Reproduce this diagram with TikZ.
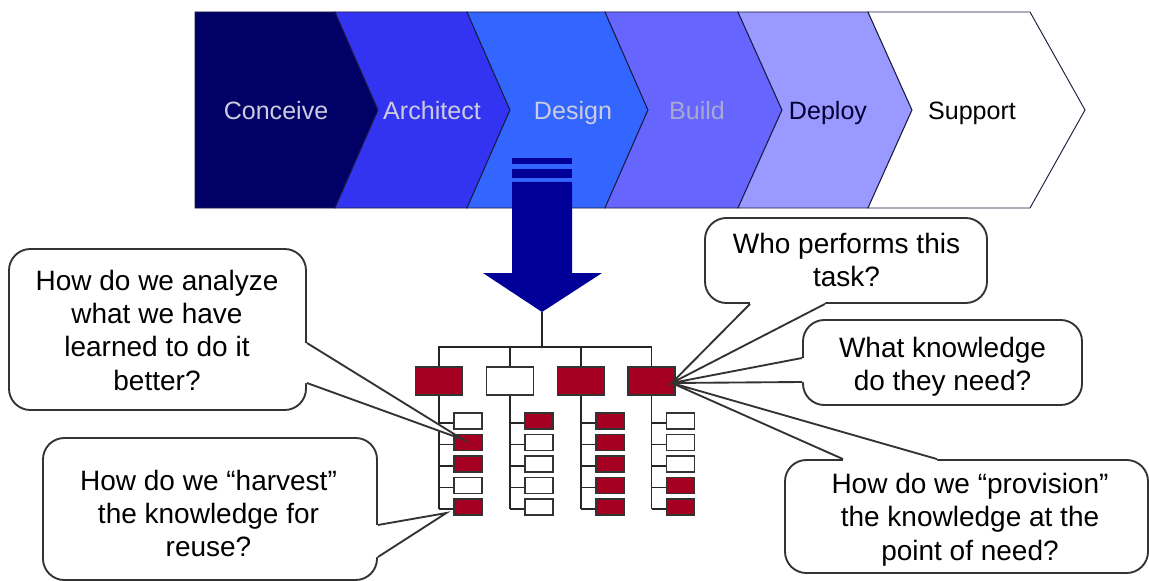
\documentclass[tikz,border=0pt]{standalone}
\usepackage{fontspec}
\setmainfont{Liberation Sans}
\usetikzlibrary{calc}

\definecolor{phaseA}{HTML}{000066}
\definecolor{phaseB}{HTML}{3333F2}
\definecolor{phaseC}{HTML}{3366FF}
\definecolor{phaseD}{HTML}{6666FF}
\definecolor{phaseE}{HTML}{9999FF}
\definecolor{edge}{HTML}{1A1A40}
\definecolor{labelpale}{HTML}{CCCCE0}
\definecolor{labelgrey}{HTML}{A8A8D0}
\definecolor{labeldark}{HTML}{000033}
\definecolor{arrowblue}{HTML}{000099}
\definecolor{taskred}{HTML}{A50021}
\definecolor{inkgray}{HTML}{333333}

% pointer wedge of a speech bubble: base points #1,#2, tip #3, inward offset #4
\newcommand{\calloutptr}[4]{%
  \fill[white] (#1) -- (#3) -- (#2) -- ($(#2)+#4$) -- ($(#1)+#4$) -- cycle;
  \draw[bubbleline] (#1) -- (#3) -- (#2);}

\begin{document}
\begin{tikzpicture}[x=0.75pt,y=-0.75pt,
  chev/.style={draw=edge, line width=0.7pt, line join=miter},
  phase/.style={anchor=base, font=\fontsize{18.8}{22}\selectfont, inner sep=0pt},
  pbox/.style={draw=inkgray, line width=1pt, minimum width=35.25pt, minimum height=21pt, inner sep=0pt},
  cbox/.style={draw=inkgray, line width=1pt, minimum width=21pt, minimum height=12pt, inner sep=0pt},
  cf0/.style={fill=white},
  cf1/.style={fill=taskred},
  tline/.style={draw=black!85, line width=1.2pt},
  bubble/.style={draw=inkgray, fill=white, line width=1.4pt, rounded corners=16pt, inner sep=0pt},
  bubbleline/.style={draw=inkgray, line width=1.4pt, line join=miter},
  qtext/.style={align=center, font=\fontsize{21}{25}\selectfont, inner sep=0pt}]

\fill[white] (0,0) rectangle (1149,581);
\useasboundingbox (0,0) rectangle (1149,581);

% life-cycle phases
\filldraw[chev, fill=phaseA] (195,12) -- (335,12) -- (378,110) -- (335,208) -- (195,208) -- cycle;
\filldraw[chev, fill=phaseB] (335,12) -- (467,12) -- (510,110) -- (467,208) -- (335,208) -- (378,110) -- cycle;
\filldraw[chev, fill=phaseC] (467,12) -- (605,12) -- (648,110) -- (605,208) -- (467,208) -- (510,110) -- cycle;
\filldraw[chev, fill=phaseD] (605,12) -- (738,12) -- (782,110) -- (738,208) -- (605,208) -- (648,110) -- cycle;
\filldraw[chev, fill=phaseE] (738,12) -- (868,12) -- (912,110) -- (868,208) -- (738,208) -- (782,110) -- cycle;
\filldraw[chev, fill=white] (868,12) -- (1030,12) -- (1085,110) -- (1030,208) -- (868,208) -- (912,110) -- cycle;

\node[phase, text=labelpale] (pConceive) at (276,120) {Conceive};
\node[phase, text=labelpale] (pArchitect) at (432,120) {Architect};
\node[phase, text=labelpale] (pDesign) at (573,120) {Design};
\node[phase, text=labelgrey] (pBuild) at (697,120) {Build};
\node[phase, text=labeldark] (pDeploy) at (828,120) {Deploy};
\node[phase, text=black] (pSupport) at (972,120) {Support};

% drill-down arrow
\fill[arrowblue] (512,158) rectangle (572,164);
\fill[arrowblue] (512,169) rectangle (572,178);
\fill[arrowblue] (512,182) -- (572,182) -- (572,273) -- (602,273) -- (542,312)
  -- (483,273) -- (512,273) -- cycle;
\coordinate (atip) at (542,312);
\coordinate (hub) at (542,347);

% task tree
\node[pbox, cf1] (t1) at (439,381) {};
\node[pbox, cf0] (t2) at (510,381) {};
\node[pbox, cf1] (t3) at (581,381) {};
\node[pbox, cf1] (t4) at (651.5,381) {};

\draw[tline] (atip) -- (hub);
\draw[tline] (t1.north) -- (t1.north |- hub) -- (t4.north |- hub) -- (t4.north);
\draw[tline] (t2.north) -- (t2.north |- hub);
\draw[tline] (t3.north) -- (t3.north |- hub);

\foreach \col/\fl in {1/{0,1,1,0,1}, 2/{1,0,0,0,0}, 3/{1,1,1,1,1}, 4/{0,0,0,1,1}} {
  \foreach \f [count=\r] in \fl {
    \node[cbox, cf\f] (c\col\r) at ($(t\col.center)+(29,40+21.5*\r-21.5)$) {};
    \draw[tline] ($(t\col.south |- c\col\r.west)+(0,2)$) -- ($(c\col\r.west)+(0,2)$);
  }
  \draw[tline] (t\col.south) -- ($(t\col.south |- c\col5.west)+(0,2)$);
}

% question bubbles
\node[bubble, minimum width=222.75pt, minimum height=120.75pt] (q1) at (157.5,329.5) {};
\coordinate (q1a) at ($(q1.east)+(0,13.5)$);
\coordinate (q1b) at ($(q1.east)+(0,53.5)$);
\coordinate (q1tip) at ($(c12.center)+(-5,-3)$);
\calloutptr{q1a}{q1b}{q1tip}{(-3,0)}
\node[qtext] (q1t) at (157,330) {How do we analyze\\what we have\\learned to do it\\better?};

\node[bubble, minimum width=250.5pt, minimum height=106.5pt] (q2) at (210,509) {};
\coordinate (q2a) at ($(q2.east)+(0,16)$);
\coordinate (q2b) at ($(q2.east)+(0,48)$);
\coordinate (q2tip) at ($(c15.west)+(-7,6)$);
\calloutptr{q2a}{q2b}{q2tip}{(-3,0)}
\node[qtext] (q2t) at (208.5,513.5) {How do we “harvest”\\the knowledge for\\reuse?};

\coordinate (rtip) at ($(t4.east)+(-4,2)$);

\node[bubble, minimum width=211.5pt, minimum height=63.75pt] (q3) at (846,260.5) {};
\coordinate (q3a) at ($(q3.south)+(-96,0)$);
\coordinate (q3b) at ($(q3.south)+(-21,0)$);
\calloutptr{q3a}{q3b}{rtip}{(0,-3)}
\node[qtext] (q3t) at (846.5,260) {Who performs this\\task?};

\node[bubble, minimum width=209.25pt, minimum height=63.75pt] (q4) at (942.5,362.5) {};
\coordinate (q4a) at ($(q4.west)+(0,-4.5)$);
\coordinate (q4b) at ($(q4.west)+(0,19.5)$);
\calloutptr{q4a}{q4b}{rtip}{(3,0)}
\node[qtext] (q4t) at (942.5,366.5) {What knowledge\\do they need?};

\node[bubble, minimum width=272.25pt, minimum height=84.75pt] (q5) at (966.5,516.5) {};
\coordinate (q5a) at ($(q5.north)+(-123.5,0)$);
\coordinate (q5b) at ($(q5.north)+(-29.5,0)$);
\calloutptr{q5a}{q5b}{rtip}{(0,3)}
\node[qtext] (q5t) at (970,519.5) {How do we “provision”\\the knowledge at the\\point of need?};

\end{tikzpicture}
\end{document}
